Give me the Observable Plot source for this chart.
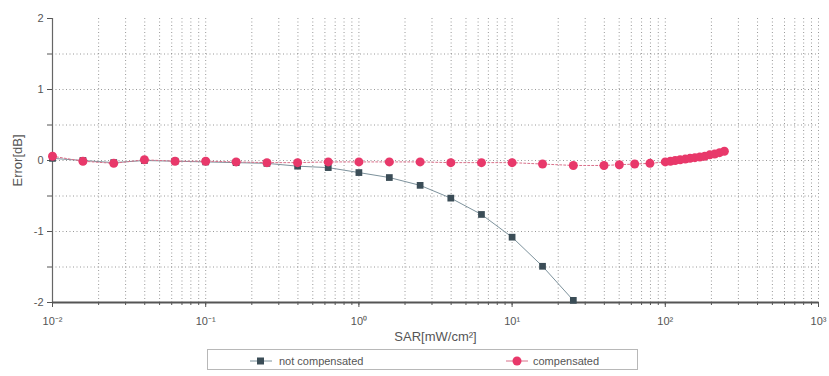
<!DOCTYPE html>
<html><head><meta charset="utf-8">
<script src="https://cdn.jsdelivr.net/npm/d3@7"></script>
<script src="https://cdn.jsdelivr.net/npm/@observablehq/plot@0.6"></script>
<style>
body{margin:0;background:#fff;font-family:"Liberation Sans",Arial,sans-serif;}
#chart{position:absolute;left:0;top:0;}
#legend{position:absolute;left:207px;top:349px;width:431px;height:21px;border:1px solid #b8b8b8;font-size:11px;color:#555;box-sizing:border-box;}
#legend .item{position:absolute;top:0;height:21px;display:flex;align-items:center;}
#legend svg{display:block;}
</style></head><body>
<div id="chart"></div>
<div id="legend"></div>
<script>
// SAR values [mW/cm^2]
const sarNotComp = [0.01, 0.0158, 0.0251, 0.0398, 0.0631, 0.1, 0.158, 0.251, 0.398, 0.631,
  1, 1.58, 2.51, 3.98, 6.31, 10, 15.8, 25.1];
const errNotComp = [0.03, 0.0, -0.03, 0.0, -0.01, -0.02, -0.03, -0.04, -0.08, -0.10,
  -0.17, -0.24, -0.35, -0.53, -0.76, -1.08, -1.49, -1.97];

const sarComp = [0.01, 0.0158, 0.0251, 0.0398, 0.0631, 0.1, 0.158, 0.251, 0.398, 0.631,
  1, 1.58, 2.51, 3.98, 6.31, 10, 15.8, 25.1, 39.8, 50.1, 63.1, 79.4,
  100, 108, 116, 125, 135, 145, 156, 168, 181, 195, 210, 226, 243];
const errComp = [0.06, -0.01, -0.04, 0.01, -0.01, -0.01, -0.02, -0.03, -0.03, -0.02,
  -0.02, -0.02, -0.02, -0.03, -0.03, -0.03, -0.05, -0.07, -0.07, -0.06, -0.05, -0.04,
  -0.02, -0.01, 0.0, 0.01, 0.02, 0.03, 0.04, 0.05, 0.06, 0.08, 0.09, 0.11, 0.13];

const xMajorTicks = [0.01, 0.1, 1, 10, 100, 1000];
const xMajorLabels = ["10⁻²", "10⁻¹", "10⁰", "10¹", "10²", "10³"];
const yTicks = [-2, -1.5, -1, -0.5, 0, 0.5, 1, 1.5, 2];
const yGrid = [-1.5, -1, -0.5, 0, 0.5, 1, 1.5];
const seriesNames = ["not compensated", "compensated"];

const notComp = sarNotComp.map((x, i) => ({x, y: errNotComp[i]}));
const comp = sarComp.map((x, i) => ({x, y: errComp[i]}));
const xDomain = [0.01, 1000];
const minorTicks = d3.scaleLog().domain(xDomain).ticks();

const colNot = "#3b4d57", colComp = "#e8386a";

const chart = Plot.plot({
  width: 829, height: 346,
  marginLeft: 52, marginRight: 11, marginTop: 18, marginBottom: 44,
  style: {fontFamily: "'Liberation Sans', Arial, sans-serif", fontSize: "11px", color: "#555", background: "#fff"},
  x: {type: "log", domain: xDomain},
  y: {domain: [-2, 2]},
  marks: [
    Plot.gridX(minorTicks, {stroke: "#777", strokeOpacity: 0.75, strokeDasharray: "1,2.5"}),
    Plot.gridY(yGrid, {stroke: "#777", strokeOpacity: 0.75, strokeDasharray: "1,2.5"}),
    Plot.axisX(minorTicks, {tickSize: 3, tickFormat: () => "", stroke: "#555", label: null}),
    Plot.axisX(xMajorTicks, {tickSize: 5, tickPadding: 10, stroke: "#555",
      tickFormat: d => xMajorLabels[xMajorTicks.indexOf(d)],
      fontSize: 11, label: "SAR[mW/cm²]", labelAnchor: "center", labelArrow: "none", labelOffset: 38}),
    Plot.axisY(yTicks, {tickSize: 5, stroke: "#555",
      tickFormat: d => Number.isInteger(d) ? String(d) : "",
      fontSize: 11, label: "Error[dB]", labelAnchor: "center", labelArrow: "none", labelOffset: 40}),
    Plot.ruleX([0.01], {stroke: "#666", strokeWidth: 1.2}),
    Plot.ruleY([-2], {stroke: "#555", strokeWidth: 1.8}),
    Plot.line(notComp, {x: "x", y: "y", stroke: "#7d929c", strokeWidth: 1}),
    Plot.line(comp, {x: "x", y: "y", stroke: "#d9708a", strokeWidth: 1, strokeDasharray: "2,2"}),
    Plot.dot(notComp, {x: "x", y: "y", symbol: "square", fill: colNot, r: 3.8}),
    Plot.dot(comp, {x: "x", y: "y", fill: colComp, r: 4.5})
  ]
});
document.getElementById("chart").appendChild(chart);
d3.select(chart).selectAll("text").attr("fill", "#555");
d3.select(chart).selectAll("[aria-label='x-axis label'] text, [aria-label='y-axis label'] text").style("font-size", "13px");

const legend = document.getElementById("legend");
legend.innerHTML =
  `<div class="item" style="left:42px"><svg width="22" height="10"><line x1="0" x2="22" y1="5" y2="5" stroke="#7d929c"/><rect x="7" y="1.5" width="7" height="7" fill="${colNot}"/></svg><span style="margin-left:7px">${seriesNames[0]}</span></div>` +
  `<div class="item" style="left:298px"><svg width="22" height="12"><line x1="0" x2="22" y1="6" y2="6" stroke="#d9708a"/><circle cx="11" cy="6" r="4.5" fill="${colComp}"/></svg><span style="margin-left:5px">${seriesNames[1]}</span></div>`;
</script>
</body></html>
